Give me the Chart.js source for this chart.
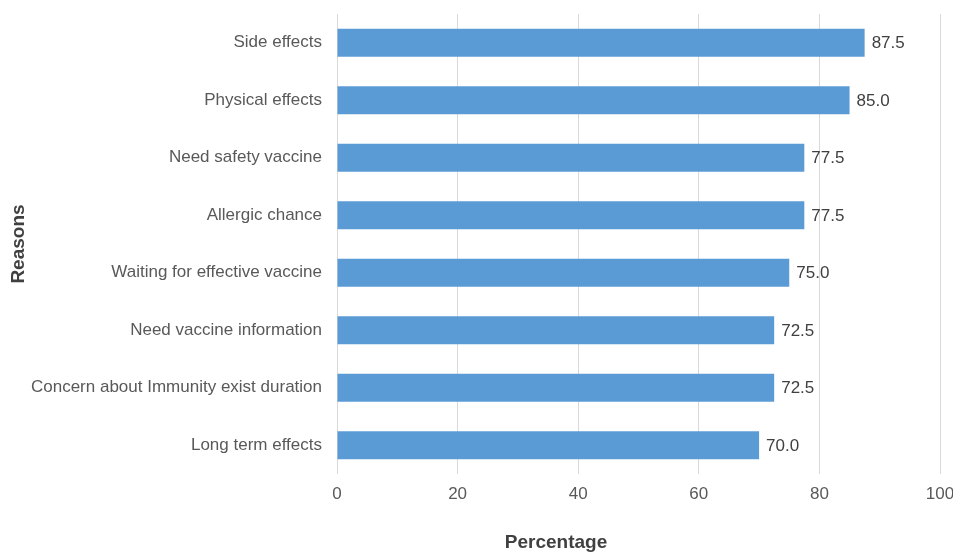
<!DOCTYPE html>
<html>
<head>
<meta charset="utf-8">
<script src="https://cdn.jsdelivr.net/npm/chart.js@4/dist/chart.umd.min.js"></script>
<style>
  html, body { margin: 0; padding: 0; background: #fff; }
  #wrap { width: 953px; height: 552px; position: relative; }
</style>
</head>
<body>
<div id="wrap"><canvas id="chart"></canvas></div>
<script>
// values, top bar first
const reasons = [
    'Side effects',
    'Physical effects',
    'Need safety vaccine',
    'Allergic chance',
    'Waiting for effective vaccine',
    'Need vaccine information',
    'Concern about Immunity exist duration',
    'Long term effects',
];
const percentages = [87.5, 85.0, 77.5, 77.5, 75.0, 72.5, 72.5, 70.0];
const xTicks = [0, 20, 40, 60, 80, 100];
const xTitle = 'Percentage';

const FONT = "'Liberation Sans', Arial, sans-serif";

// writes the value just past the end of each bar
const valueLabels = {
    id: 'valueLabels',
    afterDatasetsDraw(chart) {
        const { ctx } = chart;
        const meta = chart.getDatasetMeta(0);
        ctx.save();
        ctx.font = `17px ${FONT}`;
        ctx.fillStyle = '#404040';
        ctx.textAlign = 'left';
        ctx.textBaseline = 'middle';
        meta.data.forEach((bar, i) => {
            ctx.fillText(percentages[i].toFixed(1), bar.x + 7, bar.y + 1);
        });
        ctx.restore();
    },
};

// the original x title sits left of the plot centre, so it is drawn by hand
const xAxisTitle = {
    id: 'xAxisTitle',
    afterDraw(chart) {
        const { ctx, chartArea } = chart;
        ctx.save();
        ctx.font = `bold 19px ${FONT}`;
        ctx.fillStyle = '#404040';
        ctx.textAlign = 'center';
        ctx.textBaseline = 'middle';
        ctx.fillText(xTitle, chartArea.left + 219, chart.height - 9);
        ctx.restore();
    },
};

new Chart(document.getElementById('chart'), {
    type: 'bar',
    data: {
        labels: reasons,
        datasets: [
            {
                data: percentages,
                backgroundColor: '#5b9bd5',
                borderWidth: 0,
                barPercentage: 0.49,
                categoryPercentage: 1,
            },
        ],
    },
    options: {
        indexAxis: 'y',
        responsive: true,
        maintainAspectRatio: false,
        animation: false,
        layout: { padding: { top: 14, right: 0, bottom: 0, left: 0 } },
        plugins: {
            legend: { display: false },
            tooltip: { enabled: false },
        },
        scales: {
            x: {
                min: 0,
                max: 100,
                afterBuildTicks: (scale) => {
                    scale.ticks = xTicks.map((v) => ({ value: v }));
                },
                afterFit: (scale) => {
                    scale.height = 78;
                    scale.paddingLeft = 0;
                    scale.paddingRight = 13;
                },
                grid: { color: '#d9d9d9', drawTicks: false },
                border: { display: false },
                ticks: {
                    color: '#595959',
                    font: { family: FONT, size: 17 },
                    padding: 10,
                },
            },
            y: {
                afterFit: (scale) => {
                    scale.width = 337;
                    scale.paddingTop = 0;
                    scale.paddingBottom = 0;
                },
                grid: { display: false },
                border: { display: false },
                ticks: {
                    color: '#595959',
                    font: { family: FONT, size: 17 },
                    padding: 7,
                },
                title: {
                    display: true,
                    text: 'Reasons',
                    color: '#404040',
                    font: { family: FONT, size: 19, weight: 'bold' },
                    padding: { top: 7, bottom: 0 },
                },
            },
        },
    },
    plugins: [valueLabels, xAxisTitle],
});
</script>
</body>
</html>
